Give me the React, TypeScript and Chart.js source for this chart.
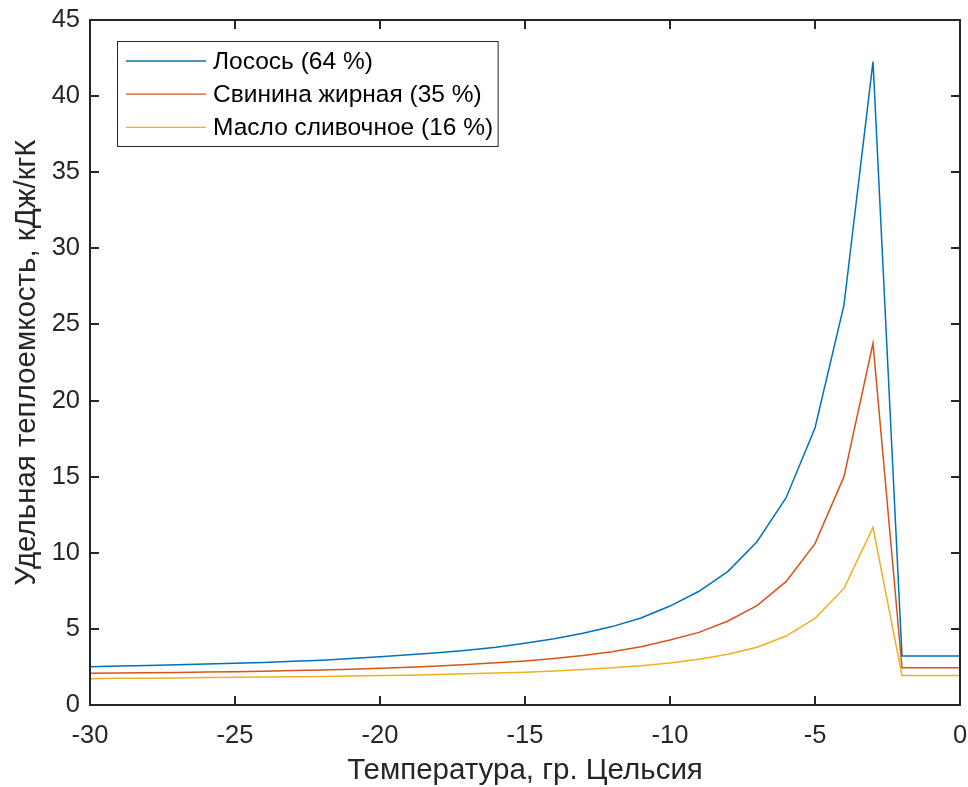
import { useEffect, useRef } from "react";
import { Chart, registerables } from "chart.js";

Chart.register(...registerables);

const temperatures = [-30, -29, -28, -27, -26, -25, -24, -23, -22, -21, -20, -19, -18, -17, -16, -15, -14, -13, -12, -11, -10, -9, -8, -7, -6, -5, -4, -3, -2, -1, 0];
const salmon = [2.52, 2.56, 2.6, 2.64, 2.69, 2.74, 2.8, 2.87, 2.94, 3.05, 3.17, 3.3, 3.44, 3.6, 3.8, 4.06, 4.35, 4.72, 5.15, 5.72, 6.5, 7.47, 8.78, 10.73, 13.6, 18.2, 26.28, 42.27, 3.22, 3.22, 3.22];
const pork = [2.08, 2.1, 2.12, 2.14, 2.16, 2.19, 2.22, 2.26, 2.3, 2.35, 2.41, 2.48, 2.56, 2.66, 2.77, 2.89, 3.05, 3.25, 3.5, 3.83, 4.27, 4.77, 5.52, 6.53, 8.1, 10.6, 15.0, 23.76, 2.45, 2.45, 2.45];
const butter = [1.73, 1.75, 1.76, 1.78, 1.8, 1.82, 1.84, 1.86, 1.88, 1.9, 1.93, 1.96, 2.0, 2.05, 2.1, 2.15, 2.23, 2.33, 2.45, 2.58, 2.76, 3.0, 3.33, 3.79, 4.53, 5.69, 7.66, 11.67, 1.93, 1.93, 1.93];
const seriesLabels = ["Лосось (64 %)", "Свинина жирная (35 %)", "Масло сливочное (16 %)"];
const seriesColors = ["#0072BD", "#D95319", "#EDB120"];
const xTicks = [-30, -25, -20, -15, -10, -5, 0];
const yTicks = [0, 5, 10, 15, 20, 25, 30, 35, 40, 45];
const xTitle = "Температура, гр. Цельсия";
const yTitle = "Удельная теплоемкость, кДж/кгК";

const FONT = "'Liberation Sans', Arial, Helvetica, sans-serif";
const AXIS_COLOR = "#262626";

const boxPlugin = {
  id: "matlabBox",
  afterDatasetsDraw(chart: any) {
    const { ctx, chartArea } = chart;
    const { left, right, top, bottom } = chartArea;
    const xs = chart.scales.x;
    const ys = chart.scales.y;
    ctx.save();
    ctx.strokeStyle = AXIS_COLOR;
    ctx.lineWidth = 2;
    ctx.strokeRect(left, top, right - left, bottom - top);
    const L = 9;
    ctx.beginPath();
    xs.ticks.forEach((t: any) => {
      const px = Math.round(xs.getPixelForValue(t.value));
      ctx.moveTo(px, bottom);
      ctx.lineTo(px, bottom - L);
      ctx.moveTo(px, top);
      ctx.lineTo(px, top + L);
    });
    ys.ticks.forEach((t: any) => {
      const py = Math.round(ys.getPixelForValue(t.value));
      ctx.moveTo(left, py);
      ctx.lineTo(left + L, py);
      ctx.moveTo(right, py);
      ctx.lineTo(right - L, py);
    });
    ctx.stroke();

    // legend
    ctx.font = `24.5px ${FONT}`;
    const ds = chart.data.datasets;
    let maxW = 0;
    ds.forEach((d: any) => {
      maxW = Math.max(maxW, ctx.measureText(d.label).width);
    });
    const bx = left + 27.5;
    const by = top + 21.5;
    const rowH = 33.2;
    const sampleX0 = bx + 8.5;
    const sampleX1 = bx + 88.5;
    const textX = bx + 95.5;
    const bw = textX - bx + maxW + 5;
    const bh = 105;
    ctx.fillStyle = "#ffffff";
    ctx.fillRect(bx, by, bw, bh);
    ctx.lineWidth = 1;
    ctx.strokeStyle = AXIS_COLOR;
    ctx.strokeRect(bx, by, bw, bh);
    ds.forEach((d: any, i: number) => {
      const cy = by + 19.5 + i * rowH;
      ctx.strokeStyle = d.borderColor;
      ctx.lineWidth = 1.3;
      ctx.beginPath();
      ctx.moveTo(sampleX0, cy);
      ctx.lineTo(sampleX1, cy);
      ctx.stroke();
      ctx.fillStyle = "#000000";
      ctx.textBaseline = "middle";
      ctx.textAlign = "left";
      ctx.fillText(d.label, textX, cy + 1);
    });
    ctx.restore();
  },
};

export default function App() {
  const ref = useRef<HTMLCanvasElement>(null);
  useEffect(() => {
    if (!ref.current) return;
    const series = [salmon, pork, butter];
    const chart = new Chart(ref.current, {
      type: "line",
      data: {
        datasets: series.map((vals, i) => ({
          label: seriesLabels[i],
          data: temperatures.map((t, j) => ({ x: t, y: vals[j] })),
          borderColor: seriesColors[i],
          backgroundColor: seriesColors[i],
          borderWidth: 1.5,
          pointRadius: 0,
          tension: 0,
          fill: false,
        })),
      },
      options: {
        animation: false,
        responsive: false,
        layout: { padding: { top: 20, right: 8, left: 0, bottom: 0 } },
        plugins: { legend: { display: false }, tooltip: { enabled: false } },
        scales: {
          x: {
            type: "linear",
            min: -30,
            max: 0,
            grid: { display: false, drawTicks: false },
            border: { display: false },
            afterBuildTicks: (s: any) => {
              s.ticks = xTicks.map((v) => ({ value: v }));
            },
            afterFit: (s: any) => {
              s.height = 82;
              s.paddingLeft = 0;
              s.paddingRight = 0;
            },
            ticks: {
              color: AXIS_COLOR,
              font: { family: FONT, size: 25.5 },
              padding: 16,
              maxRotation: 0,
              callback: (v: any) => String(v),
            },
            title: {
              display: true,
              text: xTitle,
              color: AXIS_COLOR,
              font: { family: FONT, size: 29.5, lineHeight: 1 },
              padding: { top: 0, bottom: 1 },
            },
          },
          y: {
            type: "linear",
            min: 0,
            max: 45,
            grid: { display: false, drawTicks: false },
            border: { display: false },
            afterBuildTicks: (s: any) => {
              s.ticks = yTicks.map((v) => ({ value: v }));
            },
            afterFit: (s: any) => {
              s.width = 90;
              s.paddingTop = 0;
              s.paddingBottom = 0;
            },
            ticks: {
              color: AXIS_COLOR,
              font: { family: FONT, size: 25.5 },
              padding: 10,
              callback: (v: any) => String(v),
            },
            title: {
              display: true,
              text: yTitle,
              color: AXIS_COLOR,
              font: { family: FONT, size: 29.5, lineHeight: 1 },
              padding: { top: 12, bottom: 0 },
            },
          },
        },
      },
      plugins: [boxPlugin],
    });
    return () => chart.destroy();
  }, []);
  return (
    <div style={{ position: "absolute", left: 0, top: 0, width: 968, height: 787, background: "#fff" }}>
      <canvas ref={ref} width={968} height={787} />
    </div>
  );
}
